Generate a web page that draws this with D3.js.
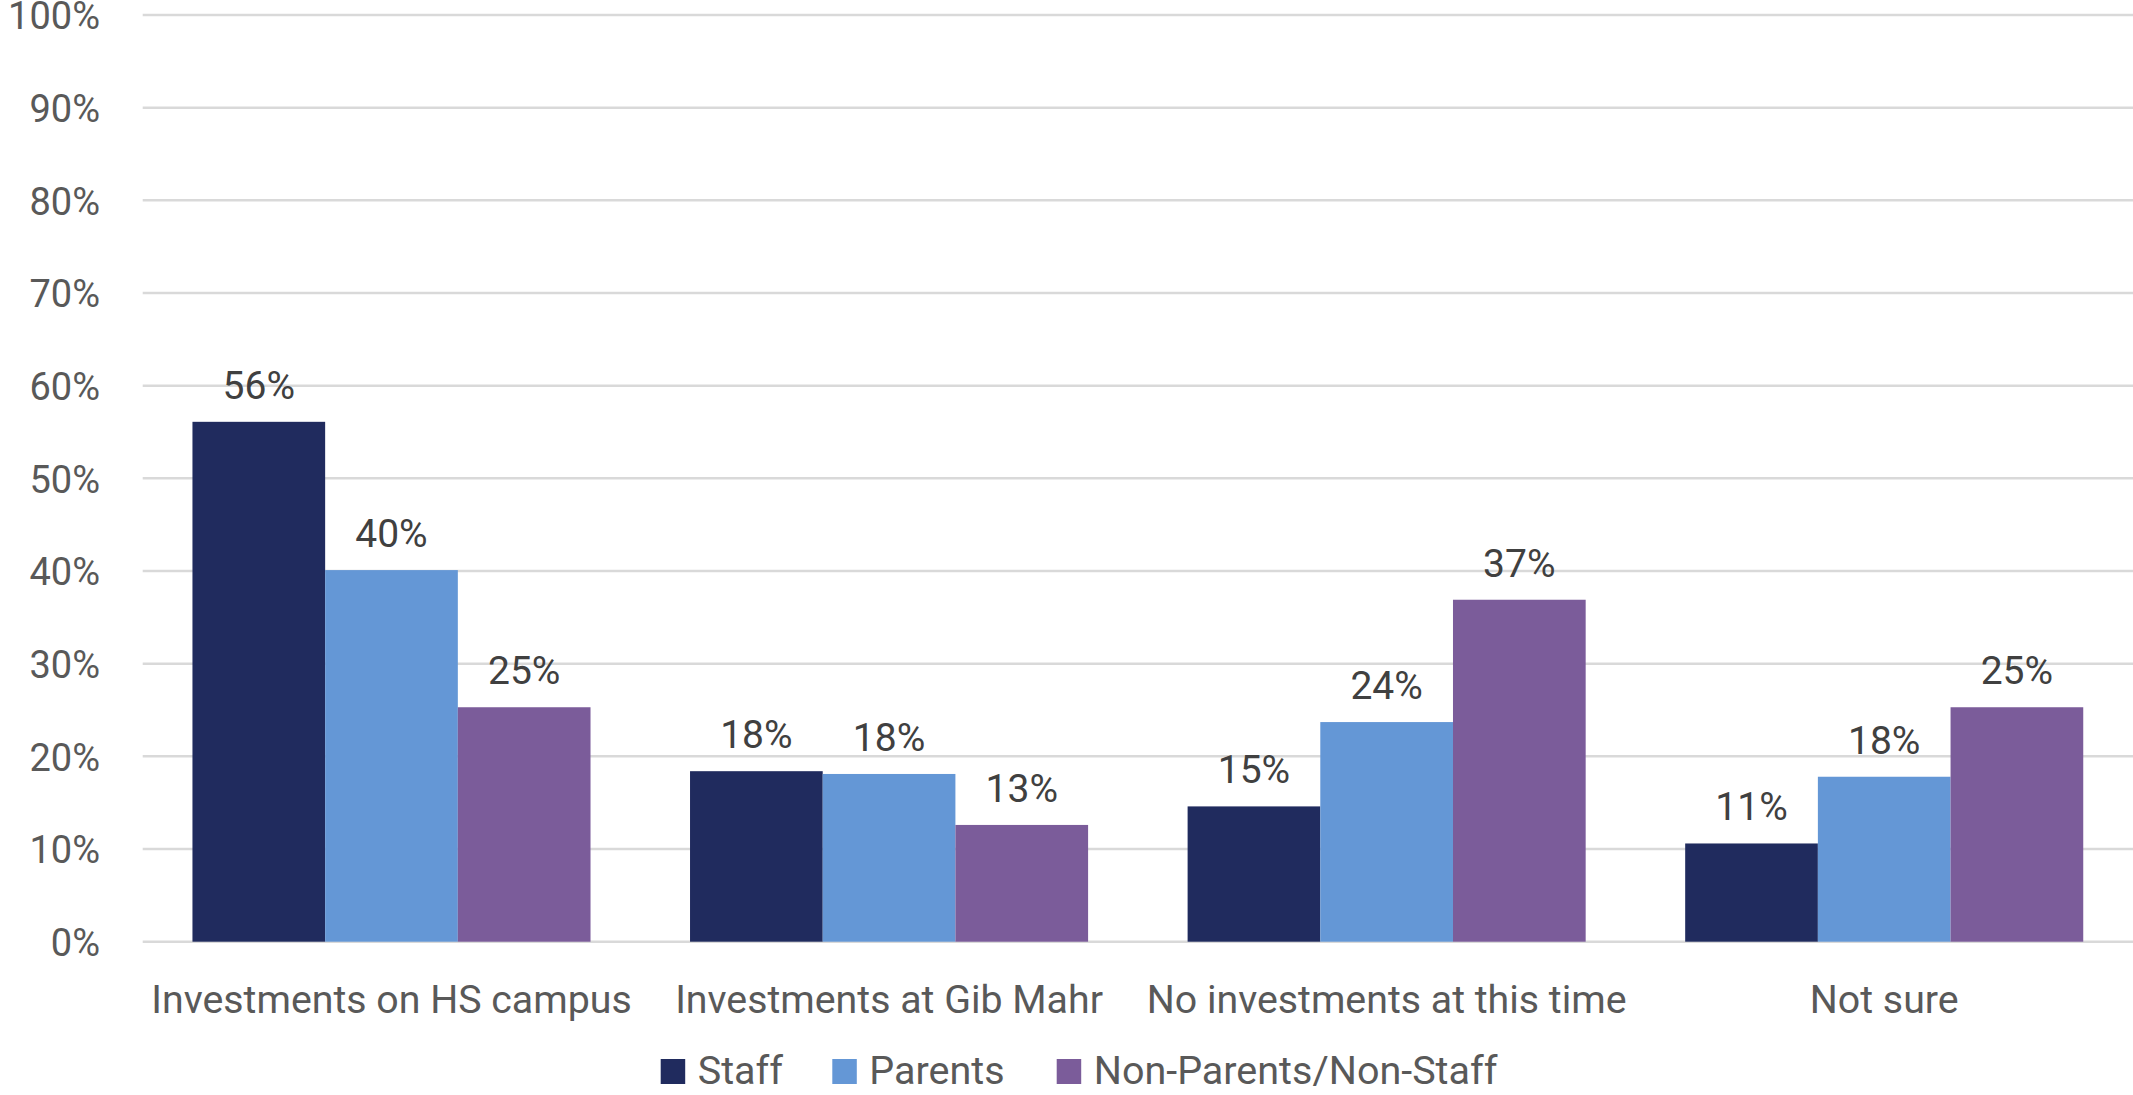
<!DOCTYPE html>
<html>
<head>
<meta charset="utf-8">
<script src="https://cdn.jsdelivr.net/npm/d3@7"></script>
<style>
  body { margin: 0; background: #fff; }
  svg { display: block; }
</style>
</head>
<body>
<div id="chart"></div>
<script>
var categories = ["Investments on HS campus", "Investments at Gib Mahr", "No investments at this time", "Not sure"];
var seriesNames = ["Staff", "Parents", "Non-Parents/Non-Staff"];
var staffValues = [0.561, 0.184, 0.146, 0.106];
var parentsValues = [0.401, 0.181, 0.237, 0.178];
var nonParentsValues = [0.253, 0.126, 0.369, 0.253];
var yTicks = [0, 0.1, 0.2, 0.3, 0.4, 0.5, 0.6, 0.7, 0.8, 0.9, 1];

var colors = ["#202b5e", "#6497d6", "#7b5c9a"];
var font = "Roboto, sans-serif";

var width = 2133, height = 1095;
var svg = d3.select("#chart").append("svg").attr("width", width).attr("height", height);

var seriesValues = [staffValues, parentsValues, nonParentsValues];
var data = categories.map(function (c, i) {
    return { cat: c, vals: seriesNames.map(function (s, j) { return { name: s, value: seriesValues[j][i], idx: j }; }) };
});

// excel style: gap width 75% between groups
var x0 = d3.scaleBand().domain(categories).range([142.7, 2133]).padding(0);
var bw = x0.bandwidth() / 3.75;
var x1 = d3.scaleBand().domain(seriesNames).range([bw * 0.375, x0.bandwidth() - bw * 0.375]).padding(0);
var y = d3.scaleLinear().domain([0, 1]).range([941.7, 15]);

// griglia
svg.append("g").selectAll("line").data(yTicks).enter().append("line")
    .attr("x1", 142.7).attr("x2", width)
    .attr("y1", function (d) { return y(d); }).attr("y2", function (d) { return y(d); })
    .attr("stroke", "#d9d9d9").attr("stroke-width", 2.5);

// asse Y
svg.append("g").selectAll("text").data(yTicks).enter().append("text")
    .attr("x", 100).attr("y", function (d) { return y(d) + 1; })
    .attr("dy", "0.35em")
    .attr("text-anchor", "end")
    .attr("font-family", font).attr("font-size", 38).attr("fill", "#595959")
    .text(d3.format(".0%"));

var groups = svg.selectAll(".grp").data(data).enter().append("g")
    .attr("class", "grp")
    .attr("transform", function (d) { return "translate(" + x0(d.cat) + ",0)"; });

groups.selectAll("rect").data(function (d) { return d.vals; }).enter().append("rect")
    .attr("x", function (d) { return x1(d.name); })
    .attr("y", function (d) { return y(d.value); })
    .attr("width", x1.bandwidth())
    .attr("height", function (d) { return y(0) - y(d.value); })
    .attr("fill", function (d) { return colors[d.idx]; });

// etichette dati
groups.selectAll(".lbl").data(function (d) { return d.vals; }).enter().append("text")
    .attr("class", "lbl")
    .attr("x", function (d) { return x1(d.name) + x1.bandwidth() / 2; })
    .attr("y", function (d) { return y(d.value) - 23; })
    .attr("text-anchor", "middle")
    .attr("font-family", font).attr("font-size", 39).attr("fill", "#404040")
    .text(function (d) { return d3.format(".0%")(d.value); });

// asse X
svg.append("g").selectAll("text").data(categories).enter().append("text")
    .attr("x", function (d) { return x0(d) + x0.bandwidth() / 2; })
    .attr("y", 1013)
    .attr("text-anchor", "middle")
    .attr("font-family", font).attr("font-size", 39.3).attr("fill", "#595959")
    .text(function (d) { return d; });

// legenda
var legendX = [660.7, 832.3, 1056.7];
var legend = svg.selectAll(".legend").data(seriesNames).enter().append("g")
    .attr("class", "legend")
    .attr("transform", function (d, i) { return "translate(" + legendX[i] + ",1059)"; });
legend.append("rect").attr("width", 24.5).attr("height", 25).attr("fill", function (d, i) { return colors[i]; });
legend.append("text").attr("x", 37).attr("y", 25)
    .attr("font-family", font).attr("font-size", 39.5).attr("fill", "#595959")
    .text(function (d) { return d; });
</script>
</body>
</html>
